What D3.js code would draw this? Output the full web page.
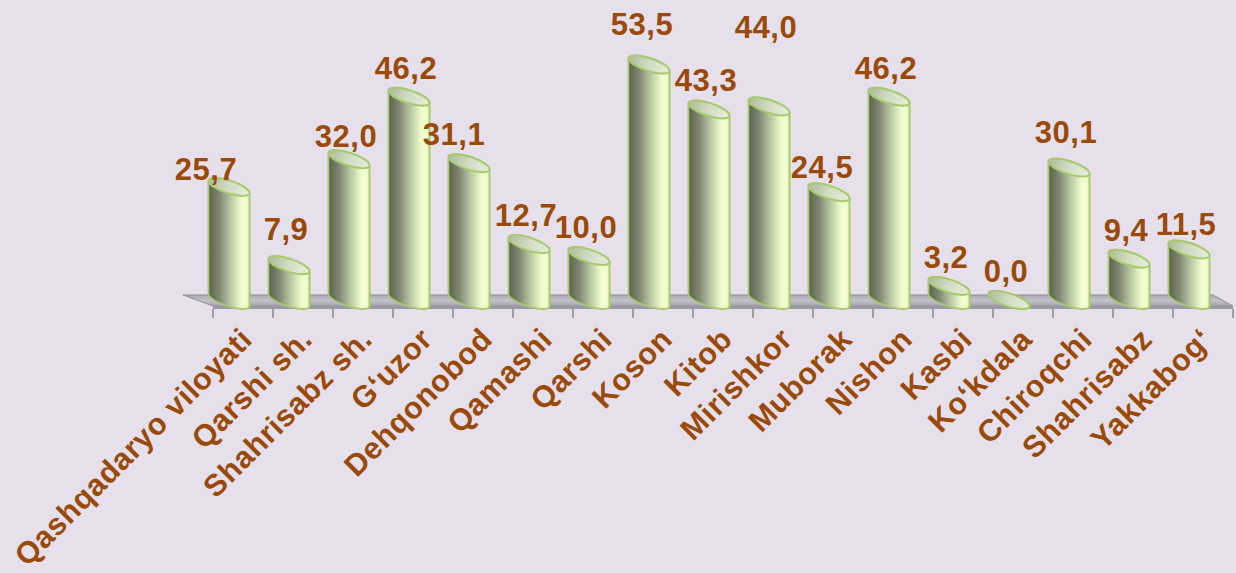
<!DOCTYPE html>
<html>
<head>
<meta charset="utf-8">
<script src="https://cdn.jsdelivr.net/npm/d3@7"></script>
<style>
  html, body { margin: 0; padding: 0; background: #e6e0ec; }
  svg { display: block; font-family: "Liberation Sans", Arial, sans-serif; }
</style>
</head>
<body>
<svg id="chart" width="1236" height="573"></svg>
<script>
const categories = [
  'Qashqadaryo viloyati', 'Qarshi sh.', 'Shahrisabz sh.', 'G‘uzor', 'Dehqonobod',
  'Qamashi', 'Qarshi', 'Koson', 'Kitob', 'Mirishkor', 'Muborak', 'Nishon',
  'Kasbi', 'Ko‘kdala', 'Chiroqchi', 'Shahrisabz', 'Yakkabog‘'
];
const values = [25.7, 7.9, 32.0, 46.2, 31.1, 12.7, 10.0, 53.5, 43.3, 44.0, 24.5, 46.2, 3.2, 0.0, 30.1, 9.4, 11.5];

// hand-moved data labels in the original (dx, dy)
const labelNudge = {
  'Qashqadaryo viloyati': [-20, 11],
  'Qarshi sh.': [0, -7],
  'Shahrisabz sh.': [0, 6],
  'Dehqonobod': [-12, 0],
  'Koson': [-4, -12],
  'Mirishkor': [0, -50],
  'Muborak': [-4, 4],
  'Chiroqchi': [0, -7],
  'Yakkabog‘': [0, 4]
};

const width = 1236, height = 573;
const textColor = '#9a4a08';
const depth = { dx: -24, dy: -11 };   // 3d back-wall offset
const rx = 21.5, ry = 6.4, tilt = 18; // cylinder ellipse

const svg = d3.select('#chart');

const x = d3.scaleBand().domain(categories).range([213, 1233]);
const y = d3.scaleLinear().domain([0, 60]).range([300, 36]);

const defs = svg.append('defs');
const sideGrad = defs.append('linearGradient').attr('id', 'side');
[['0%', '#5b614e'], ['25%', '#7d8670'], ['55%', '#bccaa2'], ['80%', '#effccb'], ['93%', '#f2ffd2'], ['100%', '#d4ec9e']]
  .forEach(([o, c]) => sideGrad.append('stop').attr('offset', o).attr('stop-color', c));
const capGrad = defs.append('linearGradient').attr('id', 'cap');
[['0%', '#aebb9c'], ['50%', '#d2dcc4'], ['100%', '#e6eedb']]
  .forEach(([o, c]) => capGrad.append('stop').attr('offset', o).attr('stop-color', c));
const floorGrad = defs.append('linearGradient').attr('id', 'floor').attr('x1', 0).attr('x2', 0).attr('y1', 0).attr('y2', 1);
[['0%', '#a9a7b1'], ['50%', '#c3c1cb'], ['100%', '#a4a2ac']]
  .forEach(([o, c]) => floorGrad.append('stop').attr('offset', o).attr('stop-color', c));

// floor
const x0 = x.range()[0], x1 = x.range()[1];
const yFront = 306, yEdge = 309;
svg.append('path')
  .attr('d', `M${x0},${yFront} L${x1},${yFront} L${x1 + depth.dx + 4},${yFront + depth.dy} L${x0 + depth.dx - 6},${yFront + depth.dy} Z`)
  .attr('fill', 'url(#floor)')
  .attr('stroke', '#8f8d97')
  .attr('stroke-width', 1);
svg.append('rect')
  .attr('x', x0).attr('y', yFront).attr('width', x1 - x0).attr('height', yEdge - yFront)
  .attr('fill', '#9c9aa4');

// ticks at band edges
const edges = categories.map(c => x(c)).concat([x1]);
svg.append('g').selectAll('line').data(edges).join('line')
  .attr('x1', d => d).attr('x2', d => d)
  .attr('y1', yEdge).attr('y2', yEdge + 9)
  .attr('stroke', '#8c8a8c').attr('stroke-width', 1.5);

// ellipse extremes for the tilted cap
const th = tilt * Math.PI / 180;
const t0 = Math.atan2(-ry * Math.sin(th), rx * Math.cos(th));
const ex = rx * Math.cos(t0) * Math.cos(th) - ry * Math.sin(t0) * Math.sin(th);
const ey = rx * Math.cos(t0) * Math.sin(th) + ry * Math.sin(t0) * Math.cos(th);

function sidePath(cx, yt, yb) {
  return `M${cx - ex},${yt - ey} L${cx - ex},${yb - ey}` +
    ` A${rx},${ry} ${tilt} 0 0 ${cx + ex},${yb + ey}` +
    ` L${cx + ex},${yt + ey}` +
    ` A${rx},${ry} ${tilt} 0 0 ${cx - ex},${yt - ey} Z`;
}

const data = categories.map((c, i) => ({ name: c, value: values[i] }));
const cxOf = d => x(d.name) + x.bandwidth() / 2 - 14;

const bars = svg.append('g').selectAll('g').data(data).join('g');
bars.append('path')
  .attr('d', d => sidePath(cxOf(d), y(d.value), y(0)))
  .attr('fill', 'url(#side)')
  .attr('stroke', '#a8c96c')
  .attr('stroke-width', 1.8);
bars.append('ellipse')
  .attr('transform', d => `translate(${cxOf(d)},${y(d.value)}) rotate(${tilt})`)
  .attr('rx', rx).attr('ry', ry)
  .attr('fill', 'url(#cap)')
  .attr('stroke', '#a8c96c')
  .attr('stroke-width', 2);

// value labels
const fmt = v => d3.format('.1f')(v).replace('.', ',');
const nudge = d => labelNudge[d.name] || [0, 0];
svg.append('g').selectAll('text').data(data).join('text')
  .attr('x', d => cxOf(d) - 3 + nudge(d)[0])
  .attr('y', d => y(d.value) - 18 + nudge(d)[1])
  .attr('text-anchor', 'middle')
  .attr('font-size', 31)
  .attr('letter-spacing', 0.5)
  .attr('font-weight', 'bold')
  .attr('fill', textColor)
  .text(d => fmt(d.value));

// category labels
svg.append('g').selectAll('text').data(categories).join('text')
  .attr('transform', d => `translate(${x(d) + x.bandwidth() / 2 + 11},${341}) rotate(-45)`)
  .attr('text-anchor', 'end')
  .attr('font-size', 30.5)
  .attr('letter-spacing', 0.6)
  .attr('font-weight', 'bold')
  .attr('fill', textColor)
  .text(d => d);
</script>
</body>
</html>
